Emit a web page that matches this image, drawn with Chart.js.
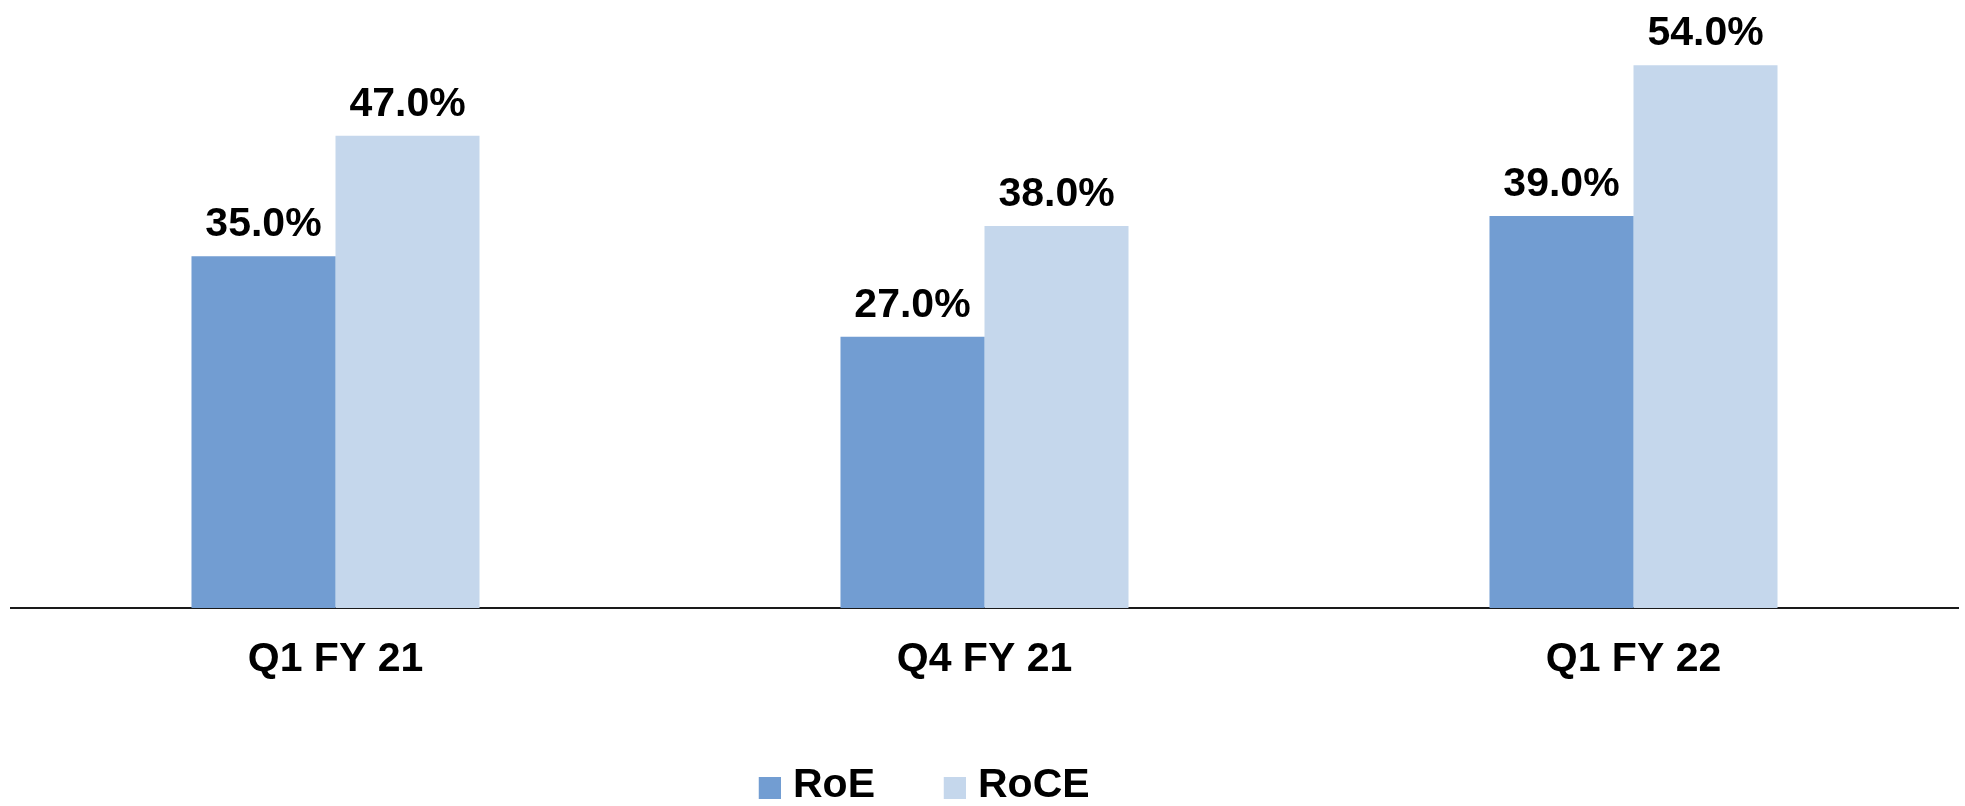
<!DOCTYPE html>
<html>
<head>
<meta charset="utf-8">
<script src="https://cdn.jsdelivr.net/npm/chart.js@4/dist/chart.umd.min.js"></script>
<style>
  html, body { margin: 0; padding: 0; background: #ffffff; }
  #wrap { position: relative; width: 1965px; height: 806px; }
</style>
</head>
<body>
<div id="wrap"><canvas id="c" width="1965" height="806"></canvas></div>
<script>
const categories = ['Q1 FY 21', 'Q4 FY 21', 'Q1 FY 22'];
const roeValues = [35.0, 27.0, 39.0];
const roceValues = [47.0, 38.0, 54.0];
const seriesNames = ['RoE', 'RoCE'];
const seriesColors = ['#729DD2', '#C5D7EC'];

const FONT = '"Liberation Sans", Arial, sans-serif';

function makeLegendImg(color) {
  const cv = document.createElement('canvas');
  cv.width = 30; cv.height = 26;
  const g = cv.getContext('2d');
  g.fillStyle = color;
  g.fillRect(8, 4, 22, 22);
  return cv;
}
const legendImgs = seriesColors.map(makeLegendImg);

const valueLabels = {
  id: 'valueLabels',
  afterDatasetsDraw(chart) {
    const ctx = chart.ctx;
    ctx.save();
    ctx.font = 'bold 41px ' + FONT;
    ctx.fillStyle = '#000000';
    ctx.textAlign = 'center';
    ctx.textBaseline = 'alphabetic';
    chart.data.datasets.forEach((ds, di) => {
      const meta = chart.getDatasetMeta(di);
      meta.data.forEach((bar, i) => {
        ctx.fillText(ds.data[i].toFixed(1) + '%', bar.x, bar.y - 20);
      });
    });
    ctx.restore();
  }
};

const legendPlace = {
  id: 'legendPlace',
  afterLayout(chart) {
    const lg = chart.legend;
    const pad = lg.options.labels.padding;
    lg.left = 759 - pad;
    lg.top = 765.5 - pad;
  }
};

new Chart(document.getElementById('c'), {
  type: 'bar',
  data: {
    labels: categories,
    datasets: [
      { label: seriesNames[0], data: roeValues, backgroundColor: seriesColors[0], borderWidth: 0 },
      { label: seriesNames[1], data: roceValues, backgroundColor: seriesColors[1], borderWidth: 0 }
    ]
  },
  options: {
    responsive: false,
    animation: false,
    devicePixelRatio: 1,
    layout: { padding: { top: 5, left: 11, right: 7, bottom: 0 } },
    datasets: { bar: { categoryPercentage: 0.4438, barPercentage: 1.0 } },
    scales: {
      x: {
        grid: { display: false, drawTicks: false },
        border: { display: true, color: '#1a1a1a', width: 2 },
        ticks: { color: '#000000', font: { family: FONT, size: 41, weight: 'bold' }, padding: 27 },
        afterFit(scale) { scale.height = 78; }
      },
      y: {
        display: false,
        min: 0,
        max: 60
      }
    },
    plugins: {
      tooltip: { enabled: false },
      legend: {
        position: 'bottom',
        align: 'start',
        labels: {
          usePointStyle: true,
          pointStyleWidth: 13.5,
          boxHeight: 22,
          padding: 69,
          color: '#000000',
          font: { family: FONT, size: 41, weight: 'bold' },
          generateLabels(chart) {
            const items = Chart.defaults.plugins.legend.labels.generateLabels(chart);
            items.forEach((it, i) => { it.pointStyle = legendImgs[i]; });
            return items;
          }
        }
      }
    }
  },
  plugins: [valueLabels, legendPlace]
});
</script>
</body>
</html>
